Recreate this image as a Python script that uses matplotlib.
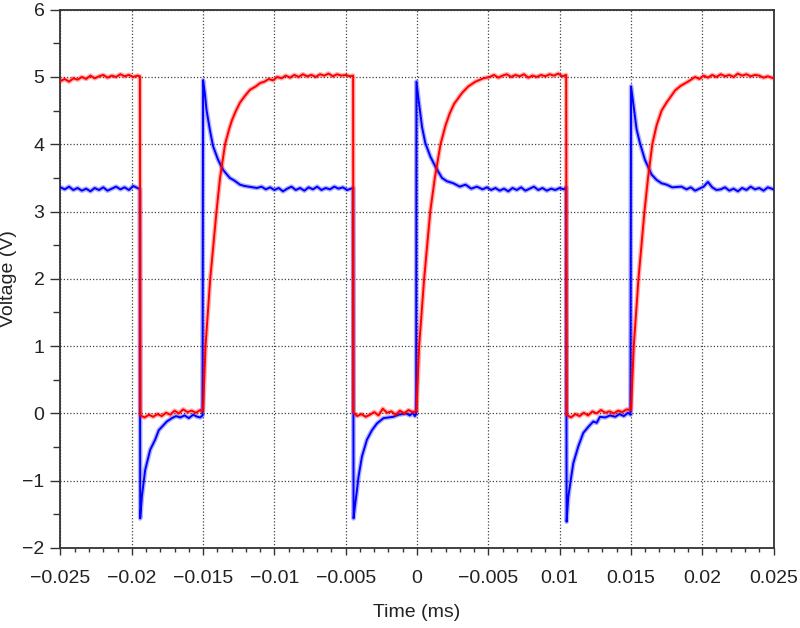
import matplotlib
matplotlib.use("Agg")
import matplotlib.pyplot as plt
from matplotlib.ticker import MultipleLocator

plt.rcParams['font.family'] = ['Liberation Sans', 'DejaVu Sans']

# ---------------- data ----------------
x_ticks = [-0.025, -0.02, -0.015, -0.01, -0.005, 0, 0.005, 0.01, 0.015, 0.02, 0.025]
x_tick_labels = ['\u22120.025', '\u22120.02', '\u22120.015', '\u22120.01', '\u22120.005', '0',
                 '\u22120.005', '0.01', '0.015', '0.02', '0.025']
y_ticks = [-2, -1, 0, 1, 2, 3, 4, 5, 6]

# red trace (time in ms, voltage in V)
red_t = [
    -0.0250, -0.0247, -0.0244, -0.0241, -0.0238, -0.0235, -0.0232, -0.0229, -0.0226, -0.0223,
    -0.0220, -0.0217, -0.0214, -0.0211, -0.0208, -0.0205, -0.0202, -0.0199, -0.0196, -0.01943,
    -0.01940, -0.0191, -0.0188, -0.0185, -0.0182, -0.0179, -0.0176, -0.0173, -0.0170, -0.0167,
    -0.0164, -0.0161, -0.0158, -0.0155, -0.0152, -0.01505,
    -0.01500, -0.01483, -0.01450, -0.01406, -0.01381, -0.01346, -0.01318, -0.01297, -0.01269, -0.01241,
    -0.01206, -0.01171, -0.0113, -0.0110, -0.0107, -0.0104, -0.0101, -0.0098,
    -0.0095, -0.0092, -0.0089, -0.0086, -0.0083, -0.0080, -0.0077, -0.0074, -0.0071, -0.0068,
    -0.0065, -0.0062, -0.0059, -0.0056, -0.0053, -0.0050, -0.0047, -0.00448,
    -0.00446, -0.0042, -0.0039, -0.0036, -0.0033, -0.0030, -0.0027, -0.0024, -0.0021, -0.0018,
    -0.0015, -0.0012, -0.0009, -0.0006, -0.0003, -0.00008,
    -0.00004, 0.00015, 0.0005, 0.00093, 0.00125, 0.00165, 0.0020, 0.00228, 0.0026, 0.00315,
    0.0036, 0.0041, 0.00465, 0.0051,
    0.0054, 0.0057, 0.0060, 0.0063, 0.0066, 0.0069, 0.0072, 0.0075, 0.0078, 0.0081,
    0.0084, 0.0087, 0.0090, 0.0093, 0.0096, 0.0099, 0.0102, 0.01046,
    0.01049, 0.0108, 0.0111, 0.0114, 0.0117, 0.0120, 0.0123, 0.0126, 0.0129, 0.0132,
    0.0135, 0.0138, 0.0141, 0.0144, 0.0147, 0.01497,
    0.01501, 0.01520, 0.01553, 0.01595, 0.0162, 0.0165, 0.0168, 0.01715, 0.0175, 0.0181,
    0.0185, 0.0190, 0.0195,
    0.0198, 0.0201, 0.0204, 0.0207, 0.0210, 0.0213, 0.0216, 0.0219, 0.0222, 0.0225,
    0.0228, 0.0231, 0.0234, 0.0237, 0.0240, 0.0243, 0.0246, 0.0250,
]
red_v = [
    4.94, 4.97, 4.93, 4.98, 4.96, 5.00, 4.97, 5.02, 4.98, 5.01,
    5.03, 4.99, 5.02, 5.00, 5.04, 5.01, 5.03, 5.00, 5.02, 5.01,
    -0.03, -0.06, -0.02, -0.05, -0.01, -0.04, 0.01, -0.02, 0.04, 0.00,
    0.06, 0.02, 0.04, 0.01, 0.05, 0.03,
    0.05, 1.00, 2.00, 3.00, 3.50, 4.00, 4.22, 4.36, 4.50, 4.62,
    4.72, 4.81, 4.86, 4.91, 4.93, 4.97, 4.95, 5.00,
    4.98, 5.02, 4.99, 5.03, 5.00, 5.04, 5.01, 5.03, 5.00, 5.04,
    5.02, 5.05, 5.01, 5.04, 5.02, 5.03, 5.01, 5.02,
    0.02, -0.04, -0.01, -0.05, -0.02, 0.02, -0.03, 0.07, 0.01, 0.03,
    -0.02, 0.04, 0.00, 0.05, 0.02, 0.03,
    0.03, 1.00, 2.00, 3.00, 3.50, 4.00, 4.28, 4.45, 4.60, 4.76,
    4.86, 4.93, 4.98, 5.00,
    5.03, 4.99, 5.02, 5.04, 5.00, 5.03, 5.01, 5.04, 4.99, 5.02,
    5.00, 5.03, 5.01, 5.04, 5.02, 5.05, 5.01, 5.03,
    -0.02, -0.06, -0.01, -0.04, 0.01, -0.03, 0.03, 0.00, 0.05, 0.01,
    0.03, 0.00, 0.04, 0.02, 0.06, 0.05,
    0.05, 1.00, 2.00, 3.00, 3.50, 4.00, 4.28, 4.50, 4.62, 4.80,
    4.87, 4.93, 5.00,
    4.97, 5.02, 4.99, 5.03, 5.00, 5.04, 5.01, 5.03, 5.00, 5.05,
    5.02, 5.04, 5.01, 5.03, 5.02, 4.99, 5.01, 4.98,
]

# blue trace (time in ms, voltage in V)
blue_t = [
    -0.0250, -0.0247, -0.0244, -0.0241, -0.0238, -0.0235, -0.0232, -0.0229, -0.0226, -0.0223,
    -0.0220, -0.0217, -0.0214, -0.0211, -0.0208, -0.0205, -0.0202, -0.0199, -0.0196, -0.01943,
    -0.01941, -0.01929, -0.01906, -0.01871, -0.01836, -0.01811, -0.01754, -0.01719, -0.0169, -0.0166,
    -0.0163, -0.0160, -0.0157, -0.0154, -0.0152, -0.01504,
    -0.01500, -0.01488, -0.01476, -0.01453, -0.01430, -0.01395, -0.01360, -0.01313, -0.01280, -0.01242,
    -0.0121, -0.01122,
    -0.0109, -0.0106, -0.0103, -0.0100, -0.0097, -0.0094, -0.0091, -0.0088, -0.0085, -0.0082,
    -0.0079, -0.0076, -0.0073, -0.0070, -0.0067, -0.0064, -0.0061, -0.0058, -0.0055, -0.0052,
    -0.0049, -0.00448,
    -0.00445, -0.00433, -0.00421, -0.0041, -0.00386, -0.00351, -0.00316, -0.00281, -0.00235, -0.00165,
    -0.0013, -0.00075, -0.0005, -0.0003, -0.00015, -0.00006,
    -0.00004, 0.00011, 0.00035, 0.00058, 0.00093, 0.00128, 0.00175, 0.0021, 0.00255, 0.0030,
    0.0034, 0.0038, 0.0042, 0.0046,
    0.0049, 0.0052, 0.0055, 0.0058, 0.0061, 0.0064, 0.0067, 0.0070, 0.0073, 0.0076,
    0.0079, 0.0082, 0.0085, 0.0088, 0.0091, 0.0094, 0.0097, 0.0100, 0.0103, 0.01046,
    0.01049, 0.01061, 0.01078, 0.01096, 0.01131, 0.01166, 0.01201, 0.01236, 0.0126, 0.01283,
    0.0132, 0.01353, 0.0139, 0.0142, 0.0145, 0.0148, 0.01497,
    0.01501, 0.01516, 0.0154, 0.01563, 0.01598, 0.01645, 0.0168, 0.01715, 0.0175, 0.0179,
    0.01855,
    0.0189, 0.0192, 0.0195, 0.0198, 0.0201, 0.0204, 0.0207, 0.0210, 0.0213, 0.0216,
    0.0219, 0.0222, 0.0225, 0.0228, 0.0231, 0.0234, 0.0237, 0.0240, 0.0243, 0.0246,
    0.0250,
]
blue_v = [
    3.36, 3.33, 3.37, 3.32, 3.35, 3.31, 3.34, 3.30, 3.35, 3.32,
    3.36, 3.31, 3.34, 3.37, 3.33, 3.36, 3.32, 3.38, 3.35, 3.33,
    -1.56, -1.23, -0.84, -0.54, -0.39, -0.25, -0.12, -0.07, -0.04, -0.06,
    -0.03, -0.07, -0.02, -0.05, -0.06, -0.03,
    4.95, 4.76, 4.51, 4.22, 3.97, 3.77, 3.62, 3.50, 3.46, 3.40,
    3.38, 3.35,
    3.37, 3.33, 3.36, 3.32, 3.35, 3.30, 3.34, 3.37, 3.32, 3.35,
    3.31, 3.36, 3.33, 3.37, 3.32, 3.35, 3.33, 3.37, 3.34, 3.36,
    3.32, 3.35,
    -1.56, -1.34, -1.14, -0.94, -0.64, -0.39, -0.25, -0.15, -0.07, -0.05,
    -0.02, 0.00, -0.03, 0.01, -0.04, -0.01,
    4.93, 4.66, 4.26, 4.02, 3.82, 3.67, 3.50, 3.45, 3.42, 3.37,
    3.40, 3.34, 3.37, 3.33,
    3.36, 3.32, 3.35, 3.31, 3.34, 3.30, 3.35, 3.32, 3.36, 3.31,
    3.34, 3.37, 3.32, 3.35, 3.31, 3.34, 3.32, 3.35, 3.33, 3.36,
    -1.61, -1.24, -0.99, -0.74, -0.49, -0.29, -0.20, -0.12, -0.14, -0.05,
    -0.06, -0.03, -0.05, -0.01, -0.04, 0.01, -0.02,
    4.86, 4.61, 4.22, 4.02, 3.77, 3.55, 3.47, 3.42, 3.40, 3.36,
    3.37,
    3.33, 3.36, 3.31, 3.34, 3.37, 3.44, 3.36, 3.32, 3.33, 3.36,
    3.31, 3.34, 3.30, 3.35, 3.32, 3.37, 3.33, 3.35, 3.31, 3.36,
    3.33,
]

# ---------------- figure ----------------
fig = plt.figure(figsize=(8.0, 6.28), dpi=100)
ax = fig.add_axes([0.0756, 0.1274, 0.8913, 0.8572])

# soft halo under each trace (mimics the noisy, anti-aliased band of the scope trace)
ax.plot(blue_t, blue_v, color='#0000ff', lw=3.4, alpha=0.3, solid_joinstyle='round', zorder=2)
ax.plot(blue_t, blue_v, color='#0000ff', lw=1.4, solid_joinstyle='round', zorder=3)
ax.plot(red_t, red_v, color='#ff0000', lw=3.4, alpha=0.3, solid_joinstyle='round', zorder=4)
ax.plot(red_t, red_v, color='#ff0000', lw=1.4, solid_joinstyle='round', zorder=5)

ax.set_xlim(-0.025, 0.025)
ax.set_ylim(-2, 6)
ax.set_xticks(x_ticks)
ax.set_xticklabels(x_tick_labels)
ax.set_yticks(y_ticks)
ax.set_yticklabels([('\u2212' + str(-v)) if v < 0 else str(v) for v in y_ticks])
ax.xaxis.set_minor_locator(MultipleLocator(0.001))
ax.yaxis.set_minor_locator(MultipleLocator(0.5))

ax.tick_params(axis='both', which='both', direction='out', colors='#333333', labelcolor='#222222',
               labelsize=14)
ax.tick_params(axis='y', which='major', length=7.5, width=1.0, pad=4)
ax.tick_params(axis='y', which='minor', length=5, width=1.0)
ax.tick_params(axis='x', which='major', length=5, width=1.0, pad=11)
ax.tick_params(axis='x', which='minor', length=3, width=1.0)

ax.grid(True, which='major', color='#444444', linestyle=(0, (1, 1.6)), linewidth=0.9)
ax.set_axisbelow(True)
for s in ax.spines.values():
    s.set_color('#333333')
    s.set_linewidth(1.3)

ax.set_xlabel('Time (ms)', fontsize=14, color='#222222', labelpad=12)
ax.set_ylabel('Voltage (V)', fontsize=14, color='#222222', labelpad=4)

fig.savefig('out.png', dpi=100)
